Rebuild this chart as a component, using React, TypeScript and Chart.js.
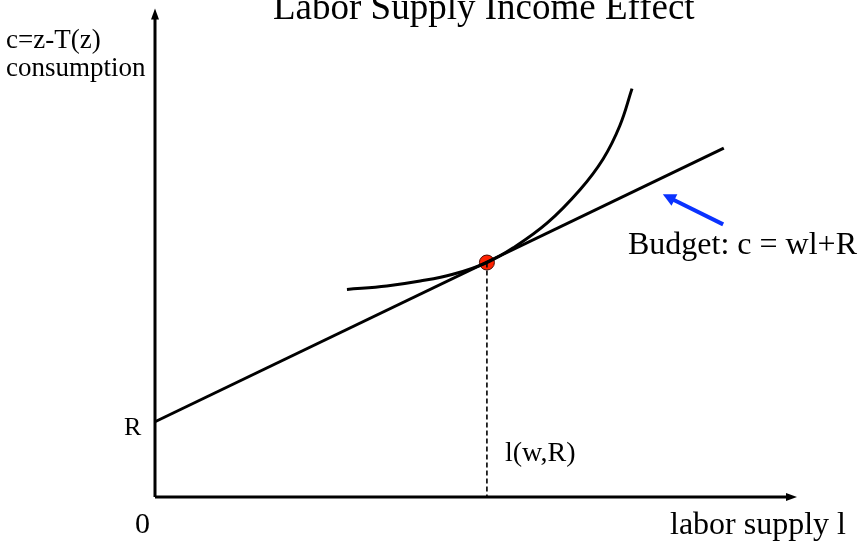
import React, { useEffect, useRef } from "react";
import { Chart, registerables } from "chart.js";

Chart.register(...registerables);

// Axis extents (data units)
const axisXLine = [{ x: 0, y: 0 }, { x: 9.9, y: 0 }];
const axisYLine = [{ x: 0, y: 0 }, { x: 0, y: 9.88 }];
const axisXTip = { x: 10, y: 0 };
const axisYTip = { x: 0, y: 10 };

// Budget line c = w*l + R
const budgetR = 1.54;
const budgetEndL = 8.86;
const budgetEndC = 7.14;
const budgetLine = [{ x: 0, y: budgetR }, { x: budgetEndL, y: budgetEndC }];

// Indifference curve
const curveL = [2.99, 3.61, 4.13, 4.64, 5.17, 5.58, 6.11, 6.62, 6.98, 7.24, 7.43];
const curveC = [4.25, 4.32, 4.42, 4.56, 4.8, 5.1, 5.61, 6.29, 6.92, 7.6, 8.36];

// Optimum
const optimumL = 5.17;
const optimumC = 4.8;

// Blue pointer arrow
const pointerTail = { x: 8.85, y: 5.58 };
const pointerShaftEnd = { x: 8.02, y: 6.12 };
const pointerTip = { x: 7.91, y: 6.2 };

const titleText = "Labor Supply Income Effect";
const yLabel1 = "c=z-T(z)";
const yLabel2 = "consumption";
const xLabel = "labor supply l";
const rLabel = "R";
const zeroLabel = "0";
const optLabel = "l(w,R)";
const budgetLabel = "Budget: c = wl+R";

const FONT = "'Liberation Serif', 'Times New Roman', serif";

export default function App() {
  const ref = useRef<HTMLCanvasElement | null>(null);

  useEffect(() => {
    document.body.style.margin = "0";
    const canvas = ref.current;
    if (!canvas) return;

    const arrowHeads = [
      { from: axisXLine[0], to: axisXTip, len: 11, half: 4, color: "#000" },
      { from: axisYLine[0], to: axisYTip, len: 11, half: 4, color: "#000" },
      { from: pointerTail, to: pointerTip, len: 13, half: 6.5, color: "#0a32ff" },
    ];

    const overlay = {
      id: "overlay",
      afterDatasetsDraw(chart: any) {
        const { ctx, scales } = chart;
        const xs = scales.x;
        const ys = scales.y;
        ctx.save();
        for (const a of arrowHeads) {
          const fx = xs.getPixelForValue(a.from.x);
          const fy = ys.getPixelForValue(a.from.y);
          const tx = xs.getPixelForValue(a.to.x);
          const ty = ys.getPixelForValue(a.to.y);
          const ang = Math.atan2(ty - fy, tx - fx);
          ctx.beginPath();
          ctx.moveTo(tx, ty);
          ctx.lineTo(
            tx - a.len * Math.cos(ang) + a.half * Math.sin(ang),
            ty - a.len * Math.sin(ang) - a.half * Math.cos(ang)
          );
          ctx.lineTo(
            tx - a.len * Math.cos(ang) - a.half * Math.sin(ang),
            ty - a.len * Math.sin(ang) + a.half * Math.cos(ang)
          );
          ctx.closePath();
          ctx.fillStyle = a.color;
          ctx.fill();
        }
        ctx.fillStyle = "#000";
        ctx.textBaseline = "alphabetic";
        ctx.textAlign = "left";
        const text = (t: string, size: number, x: number, y: number) => {
          ctx.font = `${size}px ${FONT}`;
          ctx.fillText(t, x, y);
        };
        text(titleText, 37, 273, 19);
        text(yLabel1, 27, 6, 48);
        text(yLabel2, 27, 6, 76);
        text(rLabel, 26, 124, 435);
        text(zeroLabel, 30, 135, 533);
        text(optLabel, 28, 505, 461);
        text(xLabel, 32, 670, 534);
        text(budgetLabel, 32, 628, 254);
        ctx.restore();
      },
    };

    const chart = new Chart(canvas, {
      type: "scatter",
      data: {
        datasets: [
          {
            data: [{ x: optimumL, y: optimumC }, { x: optimumL, y: 0 }],
            showLine: true,
            borderColor: "#000",
            borderWidth: 1.6,
            borderDash: [5, 3],
            pointRadius: 0,
          },
          {
            data: axisXLine,
            showLine: true,
            borderColor: "#000",
            borderWidth: 3,
            pointRadius: 0,
          },
          {
            data: axisYLine,
            showLine: true,
            borderColor: "#000",
            borderWidth: 3,
            pointRadius: 0,
          },
          {
            data: budgetLine,
            showLine: true,
            borderColor: "#000",
            borderWidth: 3,
            pointRadius: 0,
          },
          {
            data: curveL.map((x, i) => ({ x, y: curveC[i] })),
            showLine: true,
            borderColor: "#000",
            borderWidth: 3,
            pointRadius: 0,
            tension: 0.4,
          },
          {
            data: [pointerTail, pointerShaftEnd],
            showLine: true,
            borderColor: "#0a32ff",
            borderWidth: 4,
            pointRadius: 0,
          },
          {
            data: [{ x: optimumL, y: optimumC }],
            pointRadius: 7.5,
            pointBackgroundColor: "#ff2200",
            pointBorderColor: "#4a0a00",
            pointBorderWidth: 1,
          },
        ],
      },
      options: {
        animation: false,
        responsive: false,
        maintainAspectRatio: false,
        layout: { padding: { left: 155, right: 70, top: 8, bottom: 56 } },
        scales: {
          x: { type: "linear", min: 0, max: 10, display: false },
          y: { type: "linear", min: 0, max: 10, display: false },
        },
        plugins: {
          legend: { display: false },
          tooltip: { enabled: false },
          title: { display: false },
        },
        clip: false,
      } as any,
      plugins: [overlay],
    });

    return () => chart.destroy();
  }, []);

  return (
    <div style={{ position: "absolute", left: 0, top: 0, width: 867, height: 553, background: "#fff" }}>
      <canvas ref={ref} width={867} height={553} style={{ display: "block" }} />
    </div>
  );
}
